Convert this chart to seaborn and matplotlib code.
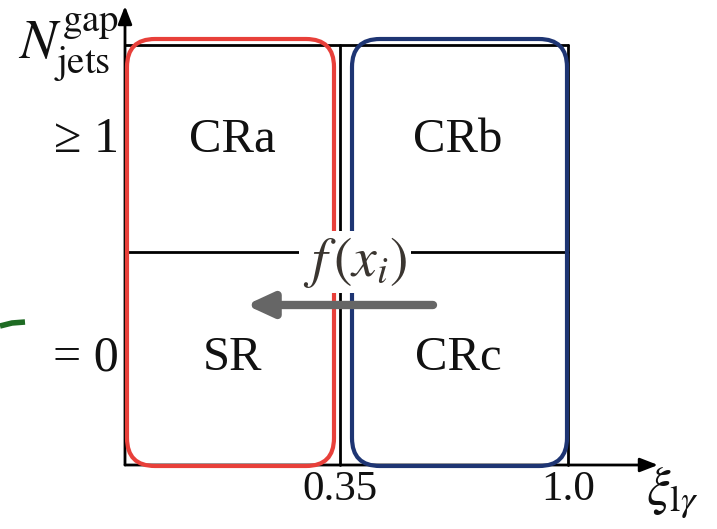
import matplotlib
matplotlib.use("Agg")
import matplotlib.pyplot as plt
import seaborn as sns
import pandas as pd
from matplotlib.patches import FancyBboxPatch

sns.set_theme(style="white")
plt.rcParams["font.family"] = ["Liberation Serif", "DejaVu Serif"]
plt.rcParams["mathtext.fontset"] = "stix"

# ---- data ----
regions = ["CRa", "CRb", "SR", "CRc"]
region_col = [0, 1, 0, 1]
region_row = [1, 1, 0, 0]
row_labels = ["= 0", "≥ 1"]
x_tick_values = [0.35, 1.0]
x_tick_labels = ["0.35", "1.0"]
transfer_label = r"$f\,(x_i)$"
y_label = r"$N^{\rm gap}_{\rm jets}$"
x_label = r"$\xi_{{\rm l}\gamma}$"

# schematic layout (pixel -> data helpers)
W, H = 717, 529
fig = plt.figure(figsize=(W / 100, H / 100), dpi=100)
x0p, x1p, y0p, y1p = 125, 568, 465, 45
ax = fig.add_axes([x0p / W, (H - y0p) / H, (x1p - x0p) / W, (y0p - y1p) / H])
ax.set_xlim(0, 1)
ax.set_ylim(0, 2)
ax.axis("off")

def px(x):
    return (x - x0p) / (x1p - x0p)

def py(y):
    return (y0p - y) / (y0p - y1p) * 2

# column centres / divider in schematic coordinates
x_div = px(340)
col_centers = [px(232), px(458)]
row_centers = [py(358), py(140)]
tick_pos = {0.35: x_div, 1.0: 1.0}

# frame lines via seaborn
lines = pd.DataFrame({
    "x": [x_div, x_div, 0, 1, 0, 1, 1, 1],
    "y": [0, 2, py(252), py(252), 2, 2, 0, 2],
    "seg": ["a", "a", "b", "b", "c", "c", "d", "d"],
})
for s, g in lines.groupby("seg"):
    sns.lineplot(data=g, x="x", y="y", ax=ax, color="black", lw=2, sort=False,
                 estimator=None, clip_on=False)

# axes arrows
ax.annotate("", xy=(px(658), 0), xytext=(0, 0),
            arrowprops=dict(arrowstyle="-|>,head_length=0.9,head_width=0.35", color="black", lw=2,
                            shrinkA=0, shrinkB=0), annotation_clip=False)
ax.annotate("", xy=(0, py(6)), xytext=(0, 0),
            arrowprops=dict(arrowstyle="-|>,head_length=0.9,head_width=0.35", color="black", lw=2,
                            shrinkA=0, shrinkB=0), annotation_clip=False)

# rounded region boxes
aspect = ((2) / (y0p - y1p)) / (1 / (x1p - x0p))
r = px(125 + 28)
red = FancyBboxPatch((px(127), py(466)), px(334) - px(127), py(39) - py(466),
                     boxstyle=f"round,pad=0,rounding_size={r}", mutation_aspect=aspect,
                     fc="none", ec="#e8403a", lw=3, clip_on=False, zorder=3)
blue = FancyBboxPatch((px(352), py(466)), px(567) - px(352), py(39) - py(466),
                      boxstyle=f"round,pad=0,rounding_size={r}", mutation_aspect=aspect,
                      fc="none", ec="#1e3573", lw=3, clip_on=False, zorder=3)
ax.add_patch(red)
ax.add_patch(blue)

# region labels
for name, c, rr in zip(regions, region_col, region_row):
    ax.text(col_centers[c], row_centers[rr], name, ha="center", va="center",
            fontsize=35, color="#111111")

# row labels
for i, lab in enumerate(row_labels):
    ax.text(px(119), row_centers[i], lab, ha="right", va="center", fontsize=36,
            color="#111111", clip_on=False)

# x tick labels
for v, lab in zip(x_tick_values, x_tick_labels):
    ax.text(tick_pos[v], py(490), lab, ha="center", va="center", fontsize=31,
            color="#111111", clip_on=False)

# axis titles
ax.text(px(119), py(48), y_label, ha="right", va="center", fontsize=40, color="#111111",
        clip_on=False)
ax.text(px(672), py(492), x_label, ha="center", va="center", fontsize=38, color="#111111",
        clip_on=False)

# transfer function label with white background
ax.text(px(355), py(262), transfer_label, ha="center", va="center", fontsize=40,
        color="#3a3530", zorder=5,
        bbox=dict(fc="white", ec="none", pad=3))

# gray arrow
ax.annotate("", xy=(px(246), py(305)), xytext=(px(433), py(305)),
            arrowprops=dict(arrowstyle="-|>,head_length=1.3,head_width=0.6", color="#666666",
                            lw=6, shrinkA=0, shrinkB=0), zorder=6)

# green stroke at left edge
gx = [px(0), px(12), px(25)]
gy = [py(326), py(323), py(322)]
ax.plot(gx, gy, color="#1e6b23", lw=4, clip_on=False, solid_capstyle="butt")

fig.savefig("out.png", dpi=100, facecolor="white")
